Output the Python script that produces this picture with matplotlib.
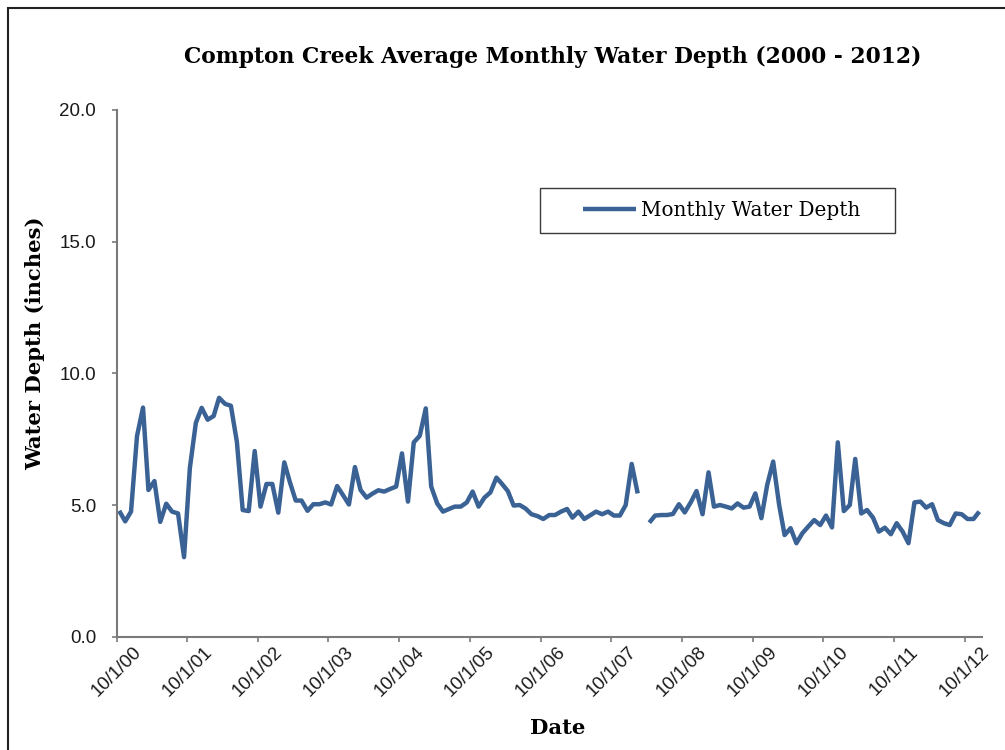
#!/usr/bin/env python3
"""
Compton Creek average monthly water depth, Oct 2000 - Dec 2012.
Single line series on a date axis, Excel-like styling.
"""

import numpy as np
import pandas as pd
import matplotlib
matplotlib.use("Agg")
import matplotlib.pyplot as plt
import matplotlib.dates as mdates
from matplotlib.patches import Rectangle

# Data (monthly averages, dated mid-month; March 2008 missing)
START_MONTH = "2000-10-01"
depth_inches = [
    4.78, 4.38, 4.75, 7.62, 8.70, 5.57, 5.91, 4.36, 5.05, 4.75, 4.68, 3.02,
    6.40, 8.12, 8.69, 8.24, 8.38, 9.07, 8.84, 8.77, 7.40, 4.81, 4.77, 7.05,
    4.94, 5.80, 5.80, 4.71, 6.62, 5.89, 5.17, 5.17, 4.78, 5.03, 5.03, 5.10,
    5.02, 5.72, 5.38, 5.02, 6.44, 5.57, 5.28, 5.43, 5.56, 5.51, 5.61, 5.70,
    6.96, 5.13, 7.38, 7.63, 8.67, 5.70, 5.06, 4.75, 4.85, 4.94, 4.94, 5.10,
    5.51, 4.94, 5.28, 5.48, 6.04, 5.81, 5.53, 4.98, 5.00, 4.87, 4.65, 4.58,
    4.47, 4.62, 4.62, 4.75, 4.85, 4.52, 4.75, 4.47, 4.61, 4.75, 4.65, 4.75,
    4.60, 4.60, 5.00, 6.56, 5.44, np.nan, 4.33, 4.60, 4.62, 4.62, 4.66, 5.03,
    4.72, 5.10, 5.53, 4.65, 6.24, 4.94, 5.00, 4.94, 4.87, 5.06, 4.90, 4.94,
    5.44, 4.50, 5.76, 6.65, 5.00, 3.86, 4.12, 3.55, 3.93, 4.18, 4.43, 4.24,
    4.60, 4.15, 7.38, 4.77, 5.00, 6.75, 4.68, 4.81, 4.52, 3.99, 4.14, 3.89,
    4.31, 3.99, 3.55, 5.10, 5.13, 4.90, 5.03, 4.43, 4.31, 4.24, 4.68, 4.65,
    4.47, 4.47, 4.75,
]

tick_dates = ["2000-10-01", "2001-10-01", "2002-10-01", "2003-10-01",
              "2004-10-01", "2005-10-01", "2006-10-01", "2007-10-01",
              "2008-10-01", "2009-10-01", "2010-10-01", "2011-10-01",
              "2012-10-01"]
tick_labels = ["10/1/00", "10/1/01", "10/1/02", "10/1/03", "10/1/04",
               "10/1/05", "10/1/06", "10/1/07", "10/1/08", "10/1/09",
               "10/1/10", "10/1/11", "10/1/12"]
y_ticks = [0, 5, 10, 15, 20]

TITLE = "Compton Creek Average Monthly Water Depth (2000 - 2012)"
LINE_COLOR = "#3a6294"
AXIS_COLOR = "#7a7a7a"
SERIF = "DejaVu Serif"
SANS = "Liberation Sans"

W, H = 1005, 750


def px_x(x):
    return x / W


def px_y(y):
    return 1 - y / H


def main():
    dates = (pd.date_range(START_MONTH, periods=len(depth_inches), freq="MS")
             + pd.Timedelta(days=14))

    fig = plt.figure(figsize=(W / 100, H / 100), dpi=100)
    ax = fig.add_axes([px_x(116.5), px_y(636.7),
                       px_x(982) - px_x(116.5), px_y(110) - px_y(636.7)])

    line, = ax.plot(dates, depth_inches, color=LINE_COLOR, linewidth=3.2,
                    solid_joinstyle="round", solid_capstyle="butt",
                    label="Monthly Water Depth")

    # Axes ranges and ticks
    ax.set_xlim(pd.Timestamp("2000-10-01"), pd.Timestamp("2012-12-29"))
    ax.set_ylim(0, 20)
    ax.set_yticks(y_ticks)
    ax.set_yticklabels([f"{v:.1f}" for v in y_ticks])
    ax.set_xticks([mdates.date2num(pd.Timestamp(d)) for d in tick_dates])
    ax.set_xticklabels(tick_labels, rotation=45, ha="center", va="center",
                       rotation_mode="anchor")

    for lbl in ax.get_xticklabels() + ax.get_yticklabels():
        lbl.set_fontfamily(SANS)
        lbl.set_fontsize(13.5)
        lbl.set_color("#1a1a1a")

    ax.tick_params(axis="both", direction="out", length=3.6, width=1.2,
                   color=AXIS_COLOR)
    ax.tick_params(axis="x", pad=21.5)
    ax.tick_params(axis="y", pad=11)

    for side in ("top", "right"):
        ax.spines[side].set_visible(False)
    for side in ("left", "bottom"):
        ax.spines[side].set_color(AXIS_COLOR)
        ax.spines[side].set_linewidth(1.5)

    # Labels / title
    fig.text(px_x(553), px_y(57), TITLE, ha="center", va="center",
             fontsize=15.7, fontweight="bold", family=SERIF)
    fig.text(px_x(35), px_y(343), "Water Depth (inches)", rotation=90,
             ha="center", va="center", fontsize=15.2, fontweight="bold",
             family=SERIF)
    fig.text(px_x(558), px_y(728), "Date", ha="center", va="center",
             fontsize=15.2, fontweight="bold", family=SERIF)

    # Legend (frame drawn separately to match box padding)
    fs = 14.4
    fs_px = fs * 100 / 72
    ax.legend(handles=[line], loc="center left",
              bbox_to_anchor=(px_x(583), px_y(210.5)),
              bbox_transform=fig.transFigure, frameon=False,
              borderpad=0, borderaxespad=0,
              handlelength=53 / fs_px, handletextpad=5 / fs_px,
              prop={"family": SERIF, "size": fs})
    fig.patches.append(Rectangle((px_x(540), px_y(233)),
                                 px_x(895) - px_x(540), px_y(188) - px_y(233),
                                 transform=fig.transFigure, fill=False,
                                 edgecolor="#3a3a3a", linewidth=1.0))

    # Outer chart border (left and top visible)
    fig.patches.append(Rectangle((px_x(8), -0.1), 1.2, px_y(8) + 0.1,
                                 transform=fig.transFigure, fill=False,
                                 edgecolor="#222222", linewidth=1.5))

    fig.savefig("out.png", dpi=100)
    plt.close(fig)


if __name__ == "__main__":
    main()
